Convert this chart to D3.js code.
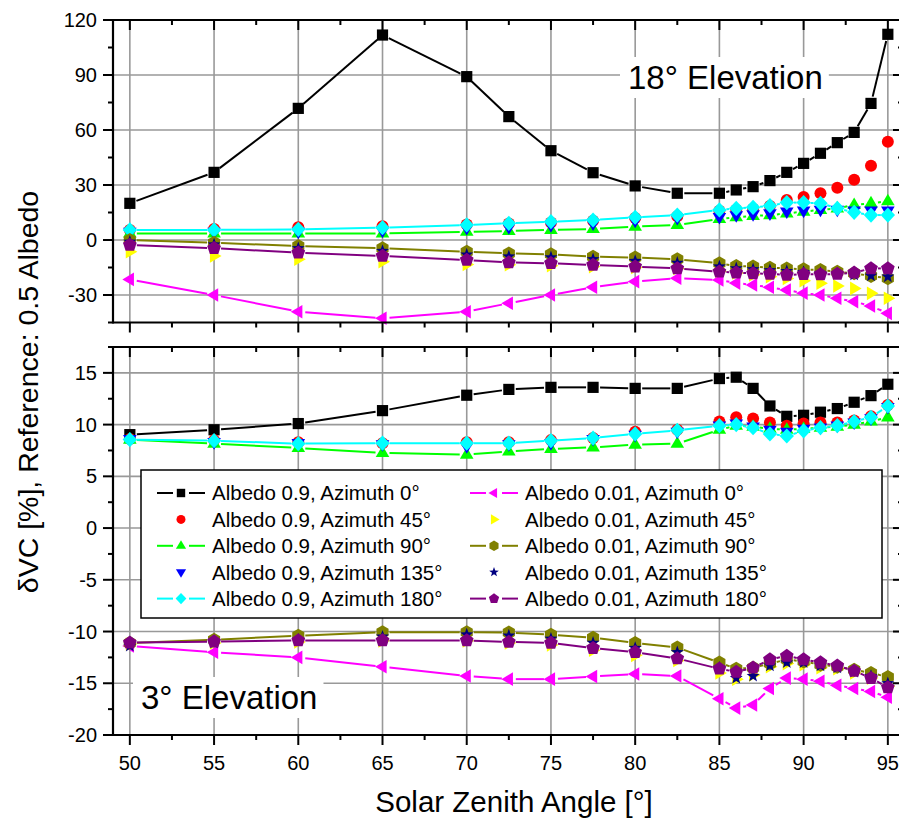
<!DOCTYPE html>
<html><head><meta charset="utf-8">
<script src="https://cdn.jsdelivr.net/npm/d3@7"></script>
<style>body{margin:0;background:#fff}svg{display:block}text{font-family:Arial,"Liberation Sans",sans-serif;fill:#000}</style>
</head><body><svg id="c" width="899" height="819"></svg>
<script>
// ---------- DATA ----------
const sza = [50,55,60,65,70,72.5,75,77.5,80,82.5,85,86,87,88,89,90,91,92,93,94,95];
const seriesNames = ["Albedo 0.9, Azimuth 0°","Albedo 0.9, Azimuth 45°","Albedo 0.9, Azimuth 90°","Albedo 0.9, Azimuth 135°","Albedo 0.9, Azimuth 180°",
                     "Albedo 0.01, Azimuth 0°","Albedo 0.01, Azimuth 45°","Albedo 0.01, Azimuth 90°","Albedo 0.01, Azimuth 135°","Albedo 0.01, Azimuth 180°"];
const xTicks = [50,55,60,65,70,75,80,85,90,95];
const topTicks = [-30,0,30,60,90,120];
const bottomTicks = [-20,-15,-10,-5,0,5,10,15];

// 18° elevation
const top_a09_az0   = [20.0,36.9,71.8,111.8,89.1,67.3,48.7,36.7,29.5,25.5,25.5,27.3,29.1,32.4,36.9,41.8,47.3,53.1,58.7,74.5,112.2];
const top_a09_az45  = [5.5,6,7,7.5,8.5,9,9.5,10.5,12,13,16,16.5,17,18.5,21.8,23.5,25.5,28.5,32.8,40.5,53.6];
const top_a09_az90  = [3.6,3.6,3.6,3.6,4.5,4.9,5.5,6.0,7.3,8.2,11.5,12.4,13.1,13.6,14.5,15.5,16.4,17.3,19.1,20.0,21.2];
const top_a09_az135 = [4.5,4.5,4.5,5,6.5,7,8,9,10.5,12,12.5,13.5,14,14.5,15.5,16,16.5,16.5,16,16,16];
const top_a09_az180 = [5.5,5.5,5.8,6.7,8.2,9.1,10.0,10.9,12.4,13.6,16.4,17.3,17.8,18.7,20.4,20.4,20.0,17.3,15.1,13.6,13.6];
const top_a001_az0   = [-21.5,-30,-39.1,-42.7,-39.1,-34.5,-30,-25.8,-22.7,-20.9,-21.8,-23.5,-24.5,-25.8,-27.3,-29.0,-30,-31.8,-33.6,-36,-40];
const top_a001_az45  = [-6.4,-8.7,-10.5,-11.8,-13.3,-13.5,-14,-14.5,-15,-15.5,-17,-18,-19,-20,-21,-22.2,-23.6,-25.1,-26.4,-29.1,-31.8];
const top_a001_az90  = [0,-1.5,-3.3,-4.5,-6.4,-7.3,-7.8,-9.1,-9.6,-10.5,-12.7,-14.2,-14.5,-15.1,-15.5,-16.0,-16.4,-17.3,-18.2,-19.6,-20.9];
const top_a001_az135 = [-1,-2.5,-4.5,-6,-8,-9,-9.5,-10.5,-11.5,-12.5,-14.5,-15.5,-16,-16.5,-17,-17.5,-18,-18.5,-19,-19.5,-20];
const top_a001_az180 = [-2.7,-4.5,-6.9,-8.7,-10.9,-12.2,-12.7,-13.6,-14.5,-15.5,-17.3,-17.8,-18.2,-18.5,-19.1,-18.6,-18.8,-18.5,-17.8,-15.5,-15.5];

// 3° elevation
const bot_a09_az0   = [9.03,9.5,10.1,11.35,12.84,13.4,13.6,13.6,13.5,13.5,14.45,14.58,13.5,11.8,10.8,10.9,11.2,11.55,12.16,12.8,13.9];
const bot_a09_az45  = [8.6,8.5,8.3,8.2,8.3,8.3,8.5,8.7,9.3,9.5,10.3,10.7,10.6,10.2,9.9,10.1,10.2,10.2,10.4,10.8,11.9];
const bot_a09_az90  = [8.55,8.16,7.74,7.26,7.1,7.4,7.65,7.8,8.06,8.16,9.5,9.9,9.8,9.6,9.5,9.6,9.7,9.8,10.0,10.3,10.7];
const bot_a09_az135 = [8.6,8.3,8.2,8.1,7.9,8.1,8.2,8.6,9.0,9.3,9.9,10.1,9.8,9.5,9.3,9.6,9.7,9.9,10.2,10.6,11.7];
const bot_a09_az180 = [8.55,8.45,8.16,8.2,8.2,8.2,8.45,8.7,9.1,9.45,9.9,10.0,9.7,9.1,8.9,9.4,9.7,9.9,10.3,10.7,11.8];
const bot_a001_az0   = [-11.4,-12.0,-12.5,-13.4,-14.3,-14.6,-14.6,-14.35,-14.1,-14.3,-16.5,-17.4,-17.1,-15.5,-14.5,-14.6,-14.8,-15.2,-15.5,-15.8,-16.35];
const bot_a001_az45  = [-11.2,-11.1,-11.0,-10.9,-10.9,-11.1,-11.3,-11.8,-12.3,-12.8,-14.0,-14.6,-14.2,-13.4,-13.1,-13.2,-13.5,-13.6,-14.0,-14.5,-15.3];
const bot_a001_az90  = [-11.1,-10.8,-10.4,-10.06,-10.06,-10.1,-10.3,-10.6,-11.1,-11.55,-13.0,-13.6,-13.5,-13.1,-12.7,-12.9,-13.2,-13.4,-13.7,-14.0,-14.4];
const bot_a001_az135 = [-11.4,-11.1,-10.8,-10.5,-10.3,-10.4,-10.7,-11.1,-11.6,-12.0,-13.5,-14.5,-14.3,-13.3,-13.0,-13.0,-13.3,-13.5,-13.9,-14.3,-15.0];
const bot_a001_az180 = [-11.07,-10.97,-10.87,-10.87,-10.87,-11.0,-11.1,-11.6,-12.0,-12.6,-13.6,-13.9,-13.5,-12.7,-12.35,-12.7,-13.0,-13.3,-13.8,-14.5,-15.4];

// ---------- STYLE ----------
const colors = ["#000000","#ff0000","#00ff00","#0000ff","#00ffff","#ff00ff","#ffff00","#808000","#000080","#800080"];
const shapes = ["square","circle","up","down","diamond","left","right","hexagon","star","pentagon"];
const hasLine = [true,false,true,false,true,true,false,true,false,true];

const topSeries = [top_a09_az0,top_a09_az45,top_a09_az90,top_a09_az135,top_a09_az180,top_a001_az0,top_a001_az45,top_a001_az90,top_a001_az135,top_a001_az180];
const botSeries = [bot_a09_az0,bot_a09_az45,bot_a09_az90,bot_a09_az135,bot_a09_az180,bot_a001_az0,bot_a001_az45,bot_a001_az90,bot_a001_az135,bot_a001_az180];

const svg = d3.select("#c");
const L = 113, R = 903;
const x = d3.scaleLinear().domain([49, 95.9]).range([L, R]);
const panels = [
  {y: d3.scaleLinear().domain([-45,120]).range([322.5,20]), ticks: topTicks, minorStep: 15, data: topSeries, labels: false},
  {y: d3.scaleLinear().domain([-20,17.5]).range([735,347]), ticks: bottomTicks, minorStep: 2.5, data: botSeries, labels: true}
];

function poly(pts){ return "M" + pts.map(p => p[0].toFixed(2)+","+p[1].toFixed(2)).join("L") + "Z"; }
function regular(n, r, rot){ const a=[]; for(let i=0;i<n;i++){ const t = rot + i*2*Math.PI/n; a.push([r*Math.sin(t), -r*Math.cos(t)]);} return a; }
function shapePath(s){
  switch(s){
    case "square": return poly([[-5.6,-5.6],[5.6,-5.6],[5.6,5.6],[-5.6,5.6]]);
    case "circle": return d3.symbol(d3.symbolCircle, Math.PI*6*6)();
    case "up": return poly([[0,-7.5],[6.8,4.1],[-6.8,4.1]]);
    case "down": return poly([[0,7.5],[6.8,-4.1],[-6.8,-4.1]]);
    case "left": return poly([[-7.5,0],[4.1,-6.8],[4.1,6.8]]);
    case "right": return poly([[7.5,0],[-4.1,-6.8],[-4.1,6.8]]);
    case "diamond": return poly([[0,-7.6],[7.2,0],[0,7.6],[-7.2,0]]);
    case "hexagon": return poly(regular(6, 7, 0));
    case "pentagon": return poly(regular(5, 7.2, 0));
    case "star": { const a=[]; for(let i=0;i<10;i++){ const r = i%2? 2.8:6.8; const t=i*Math.PI/5; a.push([r*Math.sin(t), -r*Math.cos(t)]);} return poly(a); }
  }
}

const gGrid = svg.append("g");
const gLab = svg.append("g");
const gData = svg.append("g");
const gLeg = svg.append("g");
const gAxes = svg.append("g");

const GAP = 7;
panels.forEach(p => {
  const [y0, y1] = p.y.range();  // bottom, top
  xTicks.forEach(t => gGrid.append("line").attr("x1", x(t)).attr("x2", x(t)).attr("y1", y1).attr("y2", y0)
    .attr("stroke", "#999").attr("stroke-width", 1.6));
  p.ticks.forEach(t => { const yy = p.y(t); if (yy > y1 + 1 && yy < y0 - 1)
    gGrid.append("line").attr("x1", L).attr("x2", R).attr("y1", yy).attr("y2", yy).attr("stroke", "#999").attr("stroke-width", 1.6); });

  p.data.forEach((vals, si) => {
    const g = gData.append("g");
    const pts = vals.map((v, i) => [x(sza[i]), p.y(v)]);
    if (hasLine[si]) {
      for (let i = 0; i < pts.length - 1; i++) {
        const [ax, ay] = pts[i], [bx, by] = pts[i+1];
        const dx = bx-ax, dy = by-ay, len = Math.hypot(dx, dy);
        if (len <= 2*GAP) continue;
        const ux = dx/len, uy = dy/len;
        g.append("line").attr("x1", ax+ux*GAP).attr("y1", ay+uy*GAP).attr("x2", bx-ux*GAP).attr("y2", by-uy*GAP)
          .attr("stroke", colors[si]).attr("stroke-width", 2);
      }
    }
    g.selectAll("path").data(pts).join("path").attr("d", shapePath(shapes[si]))
      .attr("transform", d => `translate(${d[0]},${d[1]})`).attr("fill", colors[si]);
  });

  gAxes.append("line").attr("x1", L).attr("x2", L).attr("y1", y1-1).attr("y2", y0+1).attr("stroke", "#000").attr("stroke-width", 2.2);
  gAxes.append("line").attr("x1", R).attr("x2", R).attr("y1", y1).attr("y2", y0).attr("stroke", "#000").attr("stroke-width", 2.2);
  [y1, y0].forEach(yy => gAxes.append("line").attr("x1", L).attr("x2", R).attr("y1", yy).attr("y2", yy).attr("stroke", "#000").attr("stroke-width", 2.2));
  const xMinor = d3.range(52.5, 95, 5);
  [y1, y0].forEach(yy => {
    xTicks.forEach(t => gAxes.append("line").attr("x1", x(t)).attr("x2", x(t)).attr("y1", yy).attr("y2", yy+10).attr("stroke", "#000").attr("stroke-width", 2));
    xMinor.forEach(t => gAxes.append("line").attr("x1", x(t)).attr("x2", x(t)).attr("y1", yy).attr("y2", yy+5).attr("stroke", "#000").attr("stroke-width", 2));
  });
  const dom = p.y.domain();
  const yMinor = d3.range(Math.ceil(dom[0]/p.minorStep)*p.minorStep, dom[1]+0.001, p.minorStep).filter(v => !p.ticks.includes(v));
  [L, R].forEach(xx => {
    p.ticks.forEach(t => gAxes.append("line").attr("x1", xx-10).attr("x2", xx).attr("y1", p.y(t)).attr("y2", p.y(t)).attr("stroke", "#000").attr("stroke-width", 2));
    yMinor.forEach(t => gAxes.append("line").attr("x1", xx-5).attr("x2", xx).attr("y1", p.y(t)).attr("y2", p.y(t)).attr("stroke", "#000").attr("stroke-width", 2));
  });
  p.ticks.forEach(t => gAxes.append("text").attr("x", 97).attr("y", p.y(t)).attr("dy", "0.35em").attr("text-anchor", "end")
    .attr("font-size", 20).text(t));
  if (p.labels) xTicks.forEach(t => gAxes.append("text").attr("x", x(t)).attr("y", 770).attr("text-anchor", "middle")
    .attr("font-size", 20).text(t));
});

function boxedLabel(txt, xx, yy){
  const t = gLab.append("text").attr("x", xx).attr("y", yy).attr("font-size", 33).text(txt);
  const b = t.node().getBBox();
  gLab.insert("rect", "text").attr("x", b.x-8).attr("y", b.y-2).attr("width", b.width+14).attr("height", b.height+4).attr("fill", "#fff");
}
boxedLabel("18° Elevation", 628, 89);
boxedLabel("3° Elevation", 141, 709);

gLeg.append("rect").attr("x", 141).attr("y", 470).attr("width", 741).attr("height", 148).attr("fill", "#fff").attr("stroke", "#000").attr("stroke-width", 1.5);
seriesNames.forEach((name, i) => {
  const col = Math.floor(i/5), row = i%5;
  const cx = col ? 494 : 181, cy = 493 + row*26.4;
  if (hasLine[i]) {
    gLeg.append("line").attr("x1", cx-24).attr("x2", cx-8).attr("y1", cy).attr("y2", cy).attr("stroke", colors[i]).attr("stroke-width", 2);
    gLeg.append("line").attr("x1", cx+8).attr("x2", cx+24).attr("y1", cy).attr("y2", cy).attr("stroke", colors[i]).attr("stroke-width", 2);
  }
  gLeg.append("path").attr("d", shapePath(shapes[i])).attr("transform", `translate(${cx},${cy}) scale(0.75)`).attr("fill", colors[i]);
  gLeg.append("text").attr("x", cx+31).attr("y", cy).attr("dy", "0.36em").attr("font-size", 20.5).text(name);
});

svg.append("text").attr("x", 514).attr("y", 812).attr("text-anchor", "middle").attr("font-size", 29.5).text("Solar Zenith Angle [°]");
svg.append("text").attr("transform", "translate(38,392) rotate(-90)").attr("text-anchor", "middle").attr("font-size", 28.5)
  .text("δVC [%], Reference: 0.5 Albedo");
</script></body></html>
